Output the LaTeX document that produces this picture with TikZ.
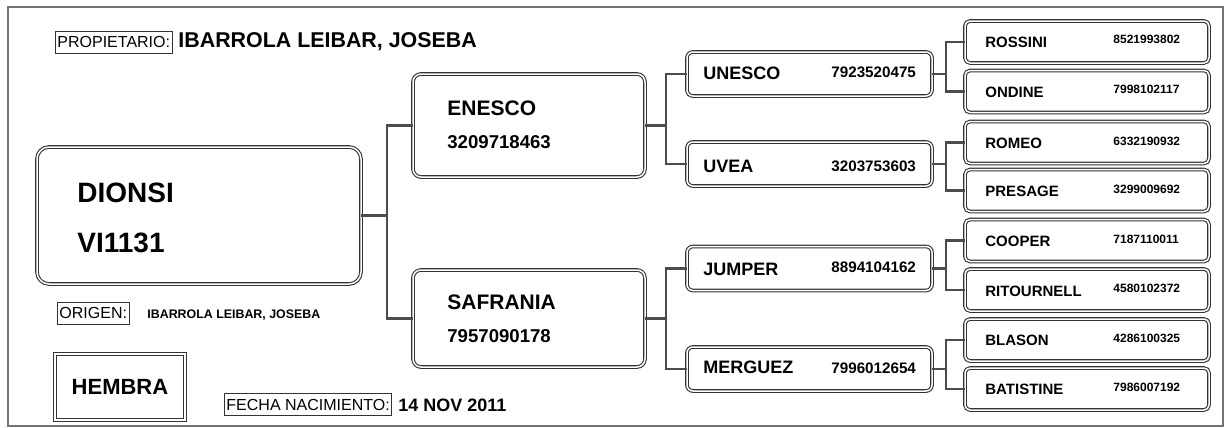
\documentclass[tikz,border=0pt]{standalone}
\usepackage{fontspec}
\setmainfont{Liberation Sans}
\begin{document}
\begin{tikzpicture}[x=0.5pt, y=-0.5pt,
	horse/.style={draw=black!80, double=white, double distance=0.75pt, line width=0.55pt, rounded corners=#1, outer sep=0pt, inner sep=0pt},
	horse/.default=3pt,
	link/.style={draw=black!70, line width=1.4pt},
	tag/.style={draw=black!80, line width=0.45pt, inner xsep=1pt, inner ysep=0pt, minimum height=11pt, font=\fontsize{8}{9}\selectfont},
	txt/.style={anchor=west, inner sep=0pt, font=\bfseries\fontsize{#1}{#1}\selectfont},
	col2/.style={horse, minimum width=122.5pt, minimum height=22pt},
	col3/.style={horse=2.5pt, minimum width=122pt, minimum height=21pt}]
	
	% 0. Marco exterior
	\useasboundingbox (0,0) rectangle (1231,428);
	\draw[draw=black!55, line width=1.2pt] (8,7) rectangle (1223,426);
	
	% 1. Cabecera y datos
	\node[tag, anchor=west] (prop) at (55,42) {PROPIETARIO:};
	\node[txt=10.7] (prop-val) at (178,42) {IBARROLA LEIBAR, JOSEBA};
	\node[tag, anchor=west] (orig) at (57,313) {ORIGEN:};
	\node[txt=6.2] (orig-val) at (147,315) {IBARROLA LEIBAR, JOSEBA};
	\node[horse=0pt, minimum width=65pt, minimum height=33pt, font=\bfseries\fontsize{11}{12}\selectfont] (sexo) at (120,387) {HEMBRA};
	\node[tag, anchor=west] (fecha) at (224,404.5) {FECHA NACIMIENTO:};
	\node[txt=9] (fecha-val) at (398,405) {14 NOV 2011};
	
	% 2. Caballo principal
	\node[horse=6pt, minimum width=162pt, minimum height=68.5pt] (dionsi) at (199,215.5) {};
	\node[txt=14] (dionsi-n) at (77,193) {DIONSI};
	\node[txt=14] (dionsi-c) at (77,243) {VI1131};
	
	% 3. Padres
	\node[horse=4pt, minimum width=116pt, minimum height=51.5pt] (enesco) at (529,125.5) {};
	\node[txt=10.5] (enesco-n) at (447,108) {ENESCO};
	\node[txt=9.3] (enesco-c) at (447,142) {3209718463};
	\node[horse=4pt, minimum width=116pt, minimum height=48.5pt] (safrania) at (529,318.5) {};
	\node[txt=10.5] (safrania-n) at (447,302) {SAFRANIA};
	\node[txt=9.3] (safrania-c) at (447,336) {7957090178};
	
	% 4. Abuelos
	\node[col2] (unesco) at (809.5,74) {};
	\node[txt=9] at (703,73) {UNESCO};
	\node[txt=7.6] at (831,72) {7923520475};
	\node[col2] (uvea) at (809.5,164) {};
	\node[txt=9] at (703,166) {UVEA};
	\node[txt=7.6] at (831,166) {3203753603};
	\node[col2] (jumper) at (809.5,268.5) {};
	\node[txt=9] at (703,269) {JUMPER};
	\node[txt=7.6] at (831,267) {8894104162};
	\node[col2] (merguez) at (809.5,369) {};
	\node[txt=9] at (703,367) {MERGUEZ};
	\node[txt=7.6] at (831,368) {7996012654};
	
	% 5. Bisabuelos
	\node[col3] (rossini) at (1087,42) {};
	\node[txt=7.5] at (985,42) {ROSSINI};
	\node[txt=6] at (1113,39) {8521993802};
	\node[col3] (ondine) at (1087,91.5) {};
	\node[txt=7.5] at (985,92) {ONDINE};
	\node[txt=6] at (1113,89) {7998102117};
	\node[col3] (romeo) at (1087,142.5) {};
	\node[txt=7.5] at (985,143) {ROMEO};
	\node[txt=6] at (1113,141) {6332190932};
	\node[col3] (presage) at (1087,190.5) {};
	\node[txt=7.5] at (985,191) {PRESAGE};
	\node[txt=6] at (1113,189) {3299009692};
	\node[col3] (cooper) at (1087,240.5) {};
	\node[txt=7.5] at (985,241) {COOPER};
	\node[txt=6] at (1113,239) {7187110011};
	\node[col3] (ritournell) at (1087,290) {};
	\node[txt=7.5] at (985,291) {RITOURNELL};
	\node[txt=6] at (1113,288) {4580102372};
	\node[col3] (blason) at (1087,340) {};
	\node[txt=7.5] at (985,340) {BLASON};
	\node[txt=6] at (1113,338) {4286100325};
	\node[col3] (batistine) at (1087,389) {};
	\node[txt=7.5] at (985,389) {BATISTINE};
	\node[txt=6] at (1113,387) {7986007192};
	
	% 6. Conexiones
	\draw[link] (dionsi.east) -- ++(26,0) coordinate (f0);
	\draw[link] (enesco.west) -| (f0) |- (safrania.west);
	\draw[link] (enesco.east) -- ++(21,0) coordinate (f1);
	\draw[link] (unesco.west) -| (f1) |- (uvea.west);
	\draw[link] (safrania.east) -- ++(21,0) coordinate (f2);
	\draw[link] (jumper.west) -| (f2) |- (merguez.west);
	\draw[link] (unesco.east) -- ++(14,0) coordinate (f3);
	\draw[link] (rossini.west) -| (f3) |- (ondine.west);
	\draw[link] (uvea.east) -- ++(14,0) coordinate (f4);
	\draw[link] (romeo.west) -| (f4) |- (presage.west);
	\draw[link] (jumper.east) -- ++(14,0) coordinate (f5);
	\draw[link] (cooper.west) -| (f5) |- (ritournell.west);
	\draw[link] (merguez.east) -- ++(14,0) coordinate (f6);
	\draw[link] (blason.west) -| (f6) |- (batistine.west);
	
\end{tikzpicture}
\end{document}
